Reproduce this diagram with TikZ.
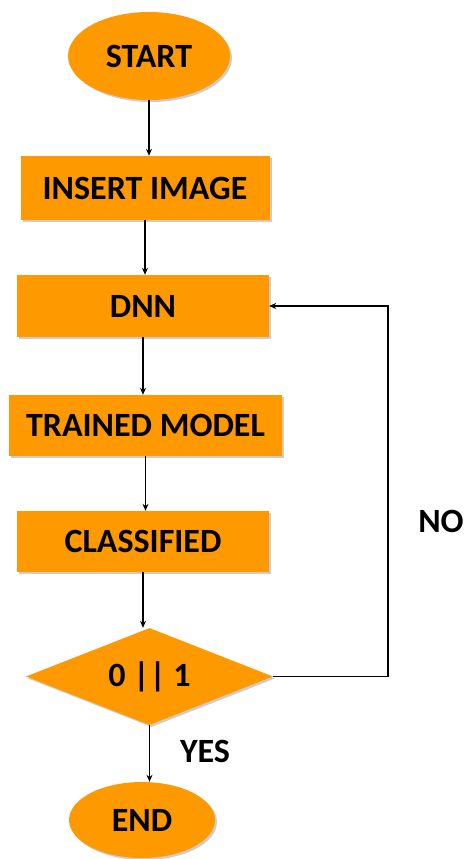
\documentclass[tikz,border=0pt]{standalone}
\usepackage{fontspec}
\setmainfont{Carlito}
\usetikzlibrary{shapes.geometric,arrows.meta,shadows}
\definecolor{boxor}{RGB}{255,153,0}
\begin{document}
\begin{tikzpicture}[x=1pt,y=1pt,
  every node/.style={font=\fontsize{34}{40}\selectfont\bfseries},
  fillbox/.style={fill=boxor,draw=none,inner sep=0pt,
    drop shadow={shadow xshift=2pt,shadow yshift=-2pt,opacity=0.2,fill=black}},
  procbox/.style={fillbox,rectangle},
  termbox/.style={fillbox,ellipse},
  decbox/.style={fillbox,diamond,shape aspect=2.55},
  arr/.style={-{Stealth[length=7pt,width=6pt]},line width=1.6pt,black},
  lbl/.style={inner sep=0pt}]
\useasboundingbox (0,0) rectangle (464,-859);
\node[termbox,minimum width=162,minimum height=88] (start) at (149,-56) {START};
\node[procbox,minimum width=249,minimum height=64] (ins) at (145,-188) {INSERT IMAGE};
\node[procbox,minimum width=252,minimum height=62] (dnn) at (143,-306) {DNN};
\node[procbox,minimum width=273,minimum height=61] (tm) at (145.5,-425.5) {TRAINED MODEL};
\node[procbox,minimum width=252,minimum height=61] (cls) at (143,-541.5) {CLASSIFIED};
\node[decbox,minimum width=247,minimum height=97] (dec) at (149.5,-676.5) {0 || 1};
\node[termbox,minimum width=146,minimum height=76] (end) at (142,-820) {END};
\node[lbl] (no) at (441,-521) {NO};
\node[lbl] (yes) at (205,-751) {YES};
\coordinate (loopx) at (388,-500);
\draw[arr] (start.south) -- (start.south |- ins.north);
\draw[arr] (ins.south) -- (ins.south |- dnn.north);
\draw[arr] (dnn.south) -- (dnn.south |- tm.north);
\draw[arr] (tm.south) -- (tm.south |- cls.north);
\draw[arr] (cls.south) -- (cls.south |- dec.north);
\draw[arr] (dec.south) -- (dec.south |- end.north);
\draw[arr] (dec.east) -- (dec.east -| loopx) |- (dnn.east);
\end{tikzpicture}
\end{document}
